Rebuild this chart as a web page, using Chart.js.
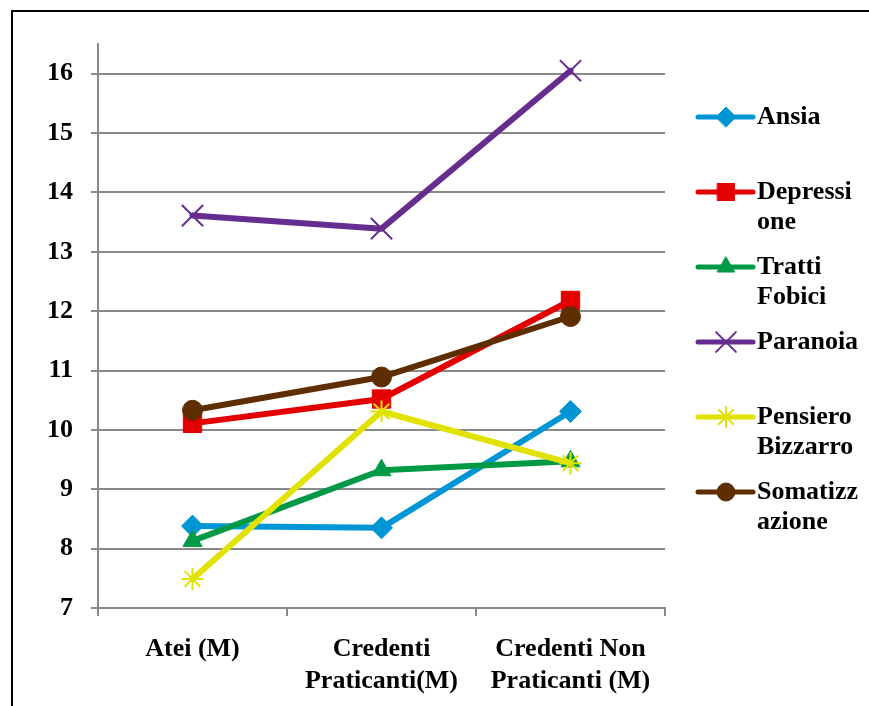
<!DOCTYPE html>
<html>
<head>
<meta charset="utf-8">
<script src="https://cdn.jsdelivr.net/npm/chart.js@4.4.1/dist/chart.umd.min.js"></script>
<style>
  html, body { margin: 0; padding: 0; background: #fff; overflow: hidden; }
  #wrap { position: absolute; left: 0; top: 0; width: 869px; height: 706px; }
  #frame { position: absolute; left: 11px; top: 10px; width: 900px; height: 760px; border: 2px solid #000; }
  canvas { position: absolute; left: 0; top: 0; }
</style>
</head>
<body>
<div id="wrap">
  <div id="frame"></div>
  <canvas id="myChart" width="869" height="706"></canvas>
</div>
<script>
// categories on the x axis
const categories = [['Atei (M)'], ['Credenti', 'Praticanti(M)'], ['Credenti Non', 'Praticanti (M)']];

// series values
const ansia = [8.38, 8.35, 10.31];
const depressione = [10.11, 10.52, 12.18];
const trattiFobici = [8.13, 9.32, 9.47];
const paranoia = [13.61, 13.39, 16.05];
const pensieroBizzarro = [7.49, 10.31, 9.44];
const somatizzazione = [10.33, 10.89, 11.91];

// legend labels (split like in the original)
const seriesNames = [['Ansia'], ['Depressi', 'one'], ['Tratti', 'Fobici'], ['Paranoia'], ['Pensiero', 'Bizzarro'], ['Somatizz', 'azione']];

// y axis range
const yMin = 7;
const yMax = 16.5;

const FONT = '"Liberation Serif", "Times New Roman", serif';

function mkSet(name, data, color, style, radius, bw) {
    return {
        label: name.join(''),
        data: data,
        borderColor: color,
        backgroundColor: color,
        borderWidth: 6,
        borderCapStyle: 'round',
        borderJoinStyle: 'round',
        pointStyle: style,
        pointRadius: radius,
        pointBorderWidth: bw,
        pointBackgroundColor: color,
        pointBorderColor: color,
        tension: 0
    };
}

const sets = [
    mkSet(seriesNames[0], ansia, '#0096D6', 'rectRot', 11, 1),
    mkSet(seriesNames[1], depressione, '#E30000', 'rect', 13, 1),
    mkSet(seriesNames[2], trattiFobici, '#009A46', 'triangle', 11, 1),
    mkSet(seriesNames[3], paranoia, '#662D91', 'crossRot', 15, 2),
    mkSet(seriesNames[4], pensieroBizzarro, '#E2E200', 'star', 11, 2),
    mkSet(seriesNames[5], somatizzazione, '#5E2D00', 'circle', 10, 1)
];
// later series on top, like the original
sets.forEach((s, i) => { s.order = sets.length - i; });

// legend on the right, drawn by hand because of the split labels
const sideLegend = {
    id: 'sideLegend',
    afterDraw(chart) {
        const ctx = chart.ctx;
        ctx.save();
        const x0 = 698, x1 = 753, xm = 726, xt = 757;
        const rowTop = 117, rowStep = 75, lineStep = 30;
        sets.forEach((s, i) => {
            const y = rowTop + i * rowStep;
            ctx.strokeStyle = s.borderColor;
            ctx.lineWidth = 5;
            ctx.lineCap = 'round';
            ctx.beginPath();
            ctx.moveTo(x0, y);
            ctx.lineTo(x1, y);
            ctx.stroke();
            ctx.fillStyle = s.borderColor;
            ctx.lineWidth = s.pointBorderWidth;
            Chart.helpers.drawPoint(ctx, {
                pointStyle: s.pointStyle,
                radius: s.pointRadius - 1,
                rotation: 0,
                borderWidth: s.pointBorderWidth
            }, xm, y);
            ctx.fillStyle = '#000';
            ctx.font = 'bold 26px ' + FONT;
            ctx.textAlign = 'left';
            ctx.textBaseline = 'middle';
            seriesNames[i].forEach((t, k) => {
                ctx.fillText(t, xt, y + k * lineStep);
            });
        });
        ctx.restore();
    }
};

const ctx = document.getElementById('myChart').getContext('2d');
const chart = new Chart(ctx, {
    type: 'line',
    data: {
        labels: categories,
        datasets: sets
    },
    plugins: [sideLegend],
    options: {
        responsive: false,
        animation: false,
        layout: { padding: { left: 0, right: 204, top: 44, bottom: 0 } },
        plugins: {
            legend: { display: false },
            tooltip: { enabled: false }
        },
        scales: {
            x: {
                offset: true,
                afterFit(scale) { scale.height = 98; },
                grid: {
                    offset: true,
                    drawOnChartArea: false,
                    drawTicks: true,
                    tickLength: 8,
                    color: '#898989',
                    lineWidth: 2
                },
                border: { color: '#898989', width: 2 },
                ticks: {
                    color: '#000',
                    padding: 18,
                    maxRotation: 0,
                    autoSkip: false,
                    font: { family: FONT, size: 26, weight: 'bold' }
                }
            },
            y: {
                min: yMin,
                max: yMax,
                afterFit(scale) { scale.width = 98; },
                afterBuildTicks(scale) {
                    scale.ticks = scale.ticks.filter(t => Number.isInteger(t.value));
                },
                grid: {
                    color: '#898989',
                    lineWidth: 2,
                    tickLength: 7
                },
                border: { color: '#898989', width: 2 },
                ticks: {
                    stepSize: 1,
                    color: '#000',
                    padding: 18,
                    font: { family: FONT, size: 26, weight: 'bold' }
                }
            }
        }
    }
});
</script>
</body>
</html>
